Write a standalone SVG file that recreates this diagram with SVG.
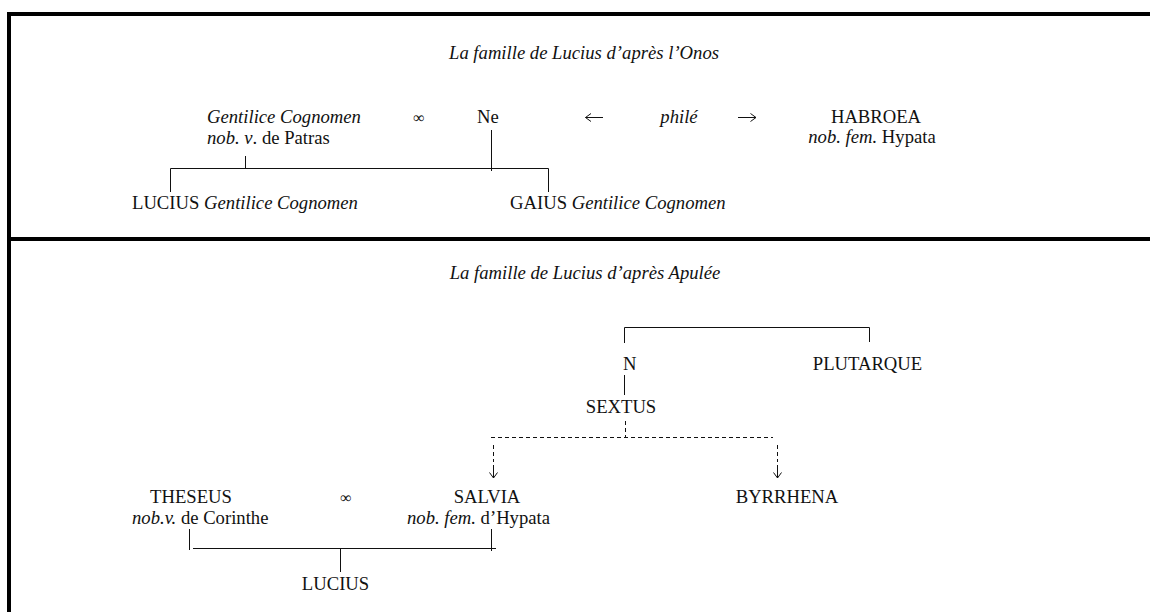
<svg xmlns="http://www.w3.org/2000/svg" width="1150" height="612" viewBox="0 0 1150 612">
<style>
text{font-family:"Liberation Serif","Times New Roman","DejaVu Serif",serif;font-size:18.67px;fill:#111}
.i{font-style:italic}
.m{text-anchor:middle}
.inf{font-size:16px}
.c{stroke:#111;stroke-width:1;fill:none}
.d{stroke:#111;stroke-width:1;fill:none;stroke-dasharray:4 3}
.ar{stroke:#111;stroke-width:1;fill:none;marker-end:url(#ah)}
.frame{fill:#000}
</style>
<defs>
<marker id="ah" viewBox="0 0 8 10" refX="7.5" refY="5" markerWidth="8" markerHeight="10" markerUnits="userSpaceOnUse" orient="auto">
<path d="M2,1 L7.5,5 L2,9" fill="none" stroke="#111" stroke-width="1"/>
</marker>
</defs>
<rect width="1150" height="612" fill="#fff"/>
<g id="frame">
<rect class="frame" x="7" y="12" width="1143" height="4"/>
<rect class="frame" x="7" y="237" width="1143" height="4"/>
<rect class="frame" x="7" y="12" width="4" height="600"/>
</g>
<g id="connectors">
<path class="c" d="M170.5 168.5H548.5M245.5 156V168.5M491.5 130V171M170.5 168.5V192M548.5 168.5V192"/>
<path class="ar" d="M603 117.5H585.5"/>
<path class="ar" d="M738 117.5H756"/>
<path class="c" d="M624.5 327.5H869.5M624.5 327.5V343M869.5 327.5V342M624.5 375V395"/>
<path class="d" d="M625.5 421V437M491 437.5H773M493.5 445V462M777.5 445V462"/>
<path class="ar" d="M493.5 465V478"/>
<path class="ar" d="M777.5 465V478"/>
<path class="c" d="M189.5 529V550M193 548.5H496M491.5 529V551M340.5 548.5V572"/>
</g>
<g id="title1"><text class="i m" x="584" y="59">La famille de Lucius d’après l’Onos</text></g>
<g id="pere1"><text class="i" x="207" y="123">Gentilice Cognomen</text><text x="207" y="144"><tspan class="i">nob. v</tspan>. de Patras</text></g>
<g id="mariage1"><text class="m inf" x="419" y="123">∞</text></g>
<g id="mere1"><text class="m" x="488" y="123">Ne</text></g>
<g id="phile"><text class="i m" x="679" y="123">philé</text></g>
<g id="habroea"><text class="m" x="876" y="123">HABROEA</text><text class="m" x="872" y="143"><tspan class="i">nob. fem.</tspan> Hypata</text></g>
<g id="lucius1"><text x="132" y="209">LUCIUS <tspan class="i">Gentilice Cognomen</tspan></text></g>
<g id="gaius"><text x="510" y="209">GAIUS <tspan class="i">Gentilice Cognomen</tspan></text></g>
<g id="title2"><text class="i m" x="585" y="279">La famille de Lucius d’après Apulée</text></g>
<g id="n"><text x="623" y="370">N</text></g>
<g id="plutarque"><text class="m" x="867.5" y="370">PLUTARQUE</text></g>
<g id="sextus"><text class="m" x="621" y="413">SEXTUS</text></g>
<g id="theseus"><text class="m" x="191" y="503">THESEUS</text><text x="132" y="524"><tspan class="i">nob.v.</tspan> de Corinthe</text></g>
<g id="mariage2"><text class="m inf" x="346" y="503">∞</text></g>
<g id="salvia"><text class="m" x="487" y="503">SALVIA</text><text x="407" y="524"><tspan class="i">nob. fem.</tspan> d’Hypata</text></g>
<g id="byrrhena"><text class="m" x="787" y="503">BYRRHENA</text></g>
<g id="lucius2"><text class="m" x="335.5" y="590">LUCIUS</text></g>
</svg>
